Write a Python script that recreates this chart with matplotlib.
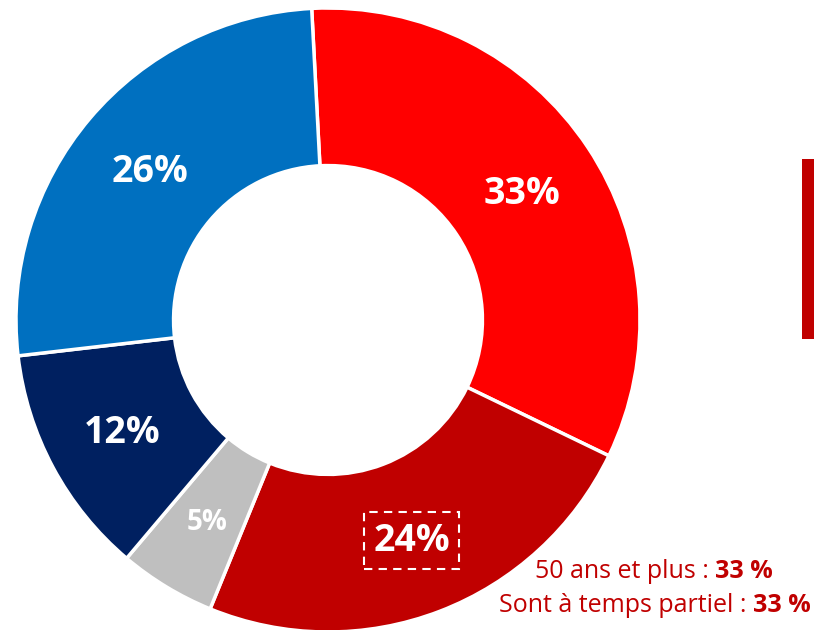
import numpy as np
import matplotlib
matplotlib.use("Agg")
import matplotlib.pyplot as plt

labels = ["33%", "24%", "5%", "12%", "26%"]
values = [33, 24, 5, 12, 26]
colors = ["#FF0000", "#C00000", "#BFBFBF", "#002060", "#0070C0"]
note_lines = [("50 ans et plus : ", "33 %"), ("Sont à temps partiel : ", "33 %")]

plt.rcParams['font.family'] = ['Open Sans', 'DejaVu Sans']

W, H = 814, 630
fig = plt.figure(figsize=(W / 100, H / 100), dpi=100)
ax = fig.add_axes([0, 0, 1, 1])

cx, cy, R = 328, 310, 312
width = 0.505
wedges, _ = ax.pie(values, colors=colors, startangle=93, counterclock=False,
                   radius=R, center=(cx, cy), frame=True,
                   wedgeprops=dict(width=R * width, edgecolor='white', linewidth=2.5))
ax.set_xlim(0, W)
ax.set_ylim(0, H)
ax.axis('off')

rmid = R * (1 - width / 2)
for i, (w, lab) in enumerate(zip(wedges, labels)):
    ang = np.deg2rad((w.theta1 + w.theta2) / 2)
    x = cx + rmid * np.cos(ang)
    y = cy + rmid * np.sin(ang) - 3
    size = 20 if values[i] < 8 else 27
    kw = {}
    if lab == "24%":
        kw['bbox'] = dict(boxstyle='square,pad=0.25', fc='none', ec='white', ls=(0, (4, 3)), lw=1.5)
    ax.text(x, y, lab, ha='center', va='center', color='white', fontsize=size,
            fontweight='bold', **kw)

# vertical bar
ax.add_patch(plt.Rectangle((802, H - 339), 12, 180, color="#C00000", lw=0))

# notes
ys = [H - 572, H - 605]
rights = [773, 811]
for (t1, t2), y, r in zip(note_lines, ys, rights):
    tb = ax.text(r, y, t2, ha='right', va='center', color="#C00000", fontsize=18, fontweight='bold')
    fig.canvas.draw()
    bb = tb.get_window_extent()
    ax.text(bb.x0, y, t1, ha='right', va='center', color="#C00000", fontsize=18)

fig.savefig("out.png", dpi=100)
